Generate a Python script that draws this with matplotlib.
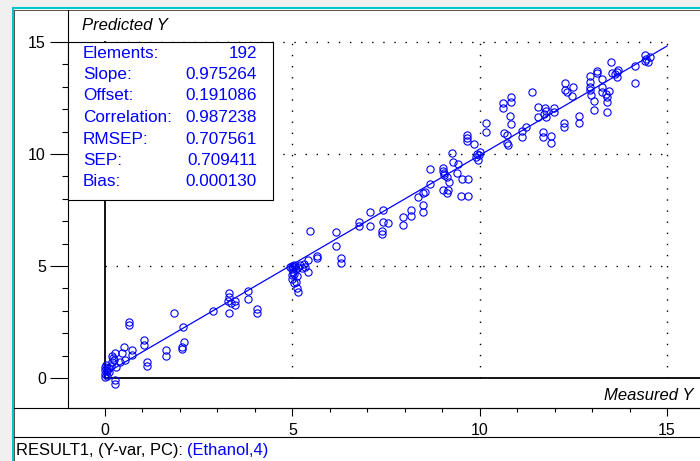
import matplotlib.pyplot as plt
from matplotlib.lines import Line2D
from matplotlib.patches import Rectangle

plt.rcParams['font.family'] = ['Liberation Sans', 'DejaVu Sans']

# measured / predicted values
measured = [
    0.0, 0.0, 0.0, 0.0, 0.02, 0.05, 0.05, 0.1, 0.15, 0.2, 0.22, 0.25, 0.27, 0.27, 0.27,
    0.12, 0.4, 0.45, 0.5, 0.53, 0.3, 0.18, 0.05,
    0.64, 0.64, 0.72, 0.72, 1.04, 1.04, 1.12, 1.12, 1.63, 1.63, 1.84, 2.08, 2.1, 2.06, 2.06, 2.87,
    3.3, 3.3, 3.28, 3.35, 3.47, 3.47, 3.3, 3.82, 3.82, 4.05, 4.05,
    5.0, 5.03, 5.08, 4.98, 5.02, 5.1, 5.05, 5.12, 5.0, 5.05, 5.1, 5.12, 5.15, 5.15, 5.2, 5.25,
    5.3, 5.35, 5.42, 5.42, 5.47, 5.66, 5.66, 4.95, 5.0, 5.05,
    6.16, 6.16, 6.3, 6.3, 6.78, 6.78, 7.07, 7.07, 7.42, 7.42, 7.39, 7.39, 7.55,
    7.95, 7.95, 8.17, 8.17,
    8.35, 8.49, 8.54, 8.49, 8.49, 8.67, 8.67, 9.02, 9.02, 9.05, 9.05, 9.13, 9.02, 9.15, 9.13,
    9.18, 9.26, 9.29, 9.42, 9.39, 9.53, 9.69, 9.5, 9.69, 9.66, 9.66, 9.66, 9.85, 9.9, 9.95,
    10.0, 10.17, 10.17, 9.93, 9.97,
    10.62, 10.62, 10.83, 10.83, 10.81, 10.84, 10.65, 10.73, 10.73, 10.76,
    11.13, 11.13, 11.24, 11.4, 11.56, 11.56, 11.74, 11.76, 11.72, 11.78,
    11.7, 11.7, 11.9, 11.9, 11.98, 11.98, 12.25, 12.25, 12.28, 12.28,
    12.33, 12.49, 12.46, 12.65, 12.65, 12.94, 12.94, 12.94, 12.94, 12.97,
    13.05, 13.05, 13.13, 13.13, 13.26, 13.26, 13.26, 13.37, 13.4, 13.4,
    13.45, 13.4, 13.5, 13.53, 13.66, 13.66, 13.62, 13.7, 14.14, 14.14,
    14.4, 14.45, 14.5, 14.55, 14.4,
]
predicted = [
    0.05, 0.2, 0.35, 0.5, 0.6, 0.1, 0.3, 0.45, 0.55, 0.7, 0.9, 0.8, 1.1, -0.1, -0.25,
    0.25, 0.7, 1.1, 1.38, 0.82, 0.5, 1.0, 0.45,
    2.5, 2.37, 1.25, 1.03, 1.7, 1.47, 0.72, 0.53, 1.25, 0.98, 2.9, 2.27, 1.6, 1.4, 1.3, 2.97,
    3.8, 3.62, 3.45, 3.35, 3.42, 3.25, 2.9, 3.88, 3.52, 3.1, 2.9,
    5.0, 4.95, 5.02, 4.85, 4.75, 4.88, 4.65, 4.55, 4.4, 4.22, 4.3, 4.0, 3.85, 4.95, 5.05, 4.9,
    5.1, 4.95, 5.27, 4.73, 6.56, 5.45, 5.36, 4.95, 4.6, 5.05,
    6.52, 5.9, 5.36, 5.13, 6.96, 6.8, 7.41, 6.78, 7.5, 6.96, 6.56, 6.43, 6.9,
    7.19, 6.83, 7.5, 7.25,
    8.08, 8.26, 8.3, 7.72, 7.41, 8.66, 9.33, 9.38, 9.25, 9.15, 9.06, 8.97, 8.4, 8.4, 8.26,
    8.75, 10.04, 9.64, 9.55, 9.15, 8.88, 8.88, 8.12, 8.12, 10.85, 10.71, 10.6, 10.45, 9.87, 9.73,
    10.1, 11.38, 10.98, 10.0, 9.95,
    12.28, 12.05, 12.54, 12.33, 11.7, 11.34, 10.94, 10.85, 10.5, 10.4,
    11.03, 10.76, 11.2, 12.77, 12.1, 11.65, 12.05, 11.9, 11.78, 11.65,
    10.98, 10.76, 10.8, 10.5, 12.05, 11.87, 11.38, 11.2, 13.17, 12.86,
    12.77, 13.0, 12.59, 11.7, 11.38, 13.5, 13.2, 13.0, 12.86, 12.63,
    12.37, 11.96, 13.7, 13.6, 13.0, 12.77, 13.35, 12.68, 12.54, 12.33,
    12.81, 11.87, 14.1, 13.6, 13.66, 13.44, 13.55, 13.75, 13.93, 13.17,
    14.4, 14.25, 14.1, 14.35, 14.15,
]

stat_names = ['Elements:', 'Slope:', 'Offset:', 'Correlation:', 'RMSEP:', 'SEP:', 'Bias:']
stat_values = ['192', '0.975264', '0.191086', '0.987238', '0.707561', '0.709411', '0.000130']
slope = 0.975264
offset = 0.191086

W, H = 700, 461
BLUE = '#0000ff'


def fx(x):
    return x / W


def fy(y):
    return 1 - y / H


fig = plt.figure(figsize=(7, 4.61), dpi=100, facecolor='#f0f0f0')

# white panel with cyan border
fig.patches.append(Rectangle((fx(13), 0), 1 - fx(13), fy(9), transform=fig.transFigure,
                             facecolor='white', edgecolor='none', zorder=-5))
fig.lines.append(Line2D([fx(12.5), fx(12.5)], [0, fy(8.5)], transform=fig.transFigure,
                        color='#00c8c8', lw=1.5, zorder=-4))
fig.lines.append(Line2D([fx(12.5), 1], [fy(8.5), fy(8.5)], transform=fig.transFigure,
                        color='#00c8c8', lw=1.5, zorder=-4))
fig.lines.append(Line2D([fx(14), fx(14)], [0, fy(10)], transform=fig.transFigure,
                        color='#505050', lw=0.7, zorder=-4))
fig.lines.append(Line2D([fx(14), 1], [fy(10), fy(10)], transform=fig.transFigure,
                        color='#505050', lw=0.7, zorder=-4))
# x-axis base line and status bar separator
fig.lines.append(Line2D([fx(14), 1], [fy(408), fy(408)], transform=fig.transFigure,
                        color='black', lw=0.8, zorder=-4))
fig.lines.append(Line2D([fx(14), 1], [fy(437), fy(437)], transform=fig.transFigure,
                        color='black', lw=0.8, zorder=-4))

ax = fig.add_axes([fx(68), fy(408), fx(700 - 68), (408 - 10) / H], zorder=1)
ax.set_facecolor('none')
ax.set_xlim((68 - 105) / 37.47, (700 - 105) / 37.47)
ax.set_ylim((378 - 408) / 22.4, (378 - 10) / 22.4)
for s in ['top', 'right']:
    ax.spines[s].set_visible(False)
ax.spines['left'].set_linewidth(0.8)
ax.spines['bottom'].set_linewidth(0.8)

ax.set_xticks([0, 5, 10, 15])
ax.set_xticks(range(0, 16), minor=True)
ax.set_yticks([0, 5, 10, 15])
ax.set_yticks(range(0, 16), minor=True)
ax.tick_params(axis='x', which='major', length=6, width=0.8, pad=5, labelsize=11.5)
ax.tick_params(axis='x', which='minor', length=3, width=0.8)
ax.tick_params(axis='y', which='major', length=13, width=0.8, pad=3, labelsize=11.5)
ax.tick_params(axis='y', which='minor', length=4.5, width=0.8)

# dotted grid inside the 0..15 square
for v in [5, 10, 15]:
    ax.plot([v, v], [0, 15], color='black', lw=1, linestyle=(0, (1, 7)), zorder=1)
    ax.plot([0, 15], [v, v], color='black', lw=1, linestyle=(0, (1, 7)), zorder=1)

# origin lines
ax.plot([0, 0], [0, 15], color='black', lw=1.3, zorder=2)
ax.plot([0, ax.get_xlim()[1]], [0, 0], color='black', lw=1.3, zorder=2)

# regression line and samples
ax.plot([0, 15], [offset, offset + slope * 15], color=BLUE, lw=0.9, zorder=3)
ax.plot(measured, predicted, 'o', mfc='none', mec=BLUE, ms=5.2, mew=0.8, zorder=4)

# statistics box
x0 = ax.get_xlim()[0]
ax.add_patch(Rectangle((x0, (378 - 200) / 22.4), (273 - 68) / 37.47, (200 - 42) / 22.4,
                       facecolor='white', edgecolor='black', lw=0.8, zorder=5, clip_on=False))
rows_y = [53, 74.5, 96, 117.5, 139, 160.5, 182]
for name, val, yy in zip(stat_names, stat_values, rows_y):
    fig.text(fx(83), fy(yy), name, color=BLUE, fontsize=12.3, va='center', ha='left', zorder=6)
    fig.text(fx(257), fy(yy), val, color=BLUE, fontsize=12.3, va='center', ha='right', zorder=6)

fig.text(fx(82), fy(26), 'Predicted Y', fontsize=12, style='italic', va='center', ha='left')
fig.text(fx(693), fy(395), 'Measured Y', fontsize=12, style='italic', va='center', ha='right')

# status bar
t1 = fig.text(fx(16), fy(450), 'RESULT1, (Y-var, PC): ', fontsize=11.9, va='center', ha='left')
renderer = fig.canvas.get_renderer()
bb = t1.get_window_extent(renderer=renderer)
fig.text(bb.x1 / fig.bbox.width, fy(450), '(Ethanol,4)', color=BLUE, fontsize=11.9,
         va='center', ha='left')

fig.savefig('out.png', dpi=100, facecolor=fig.get_facecolor())
